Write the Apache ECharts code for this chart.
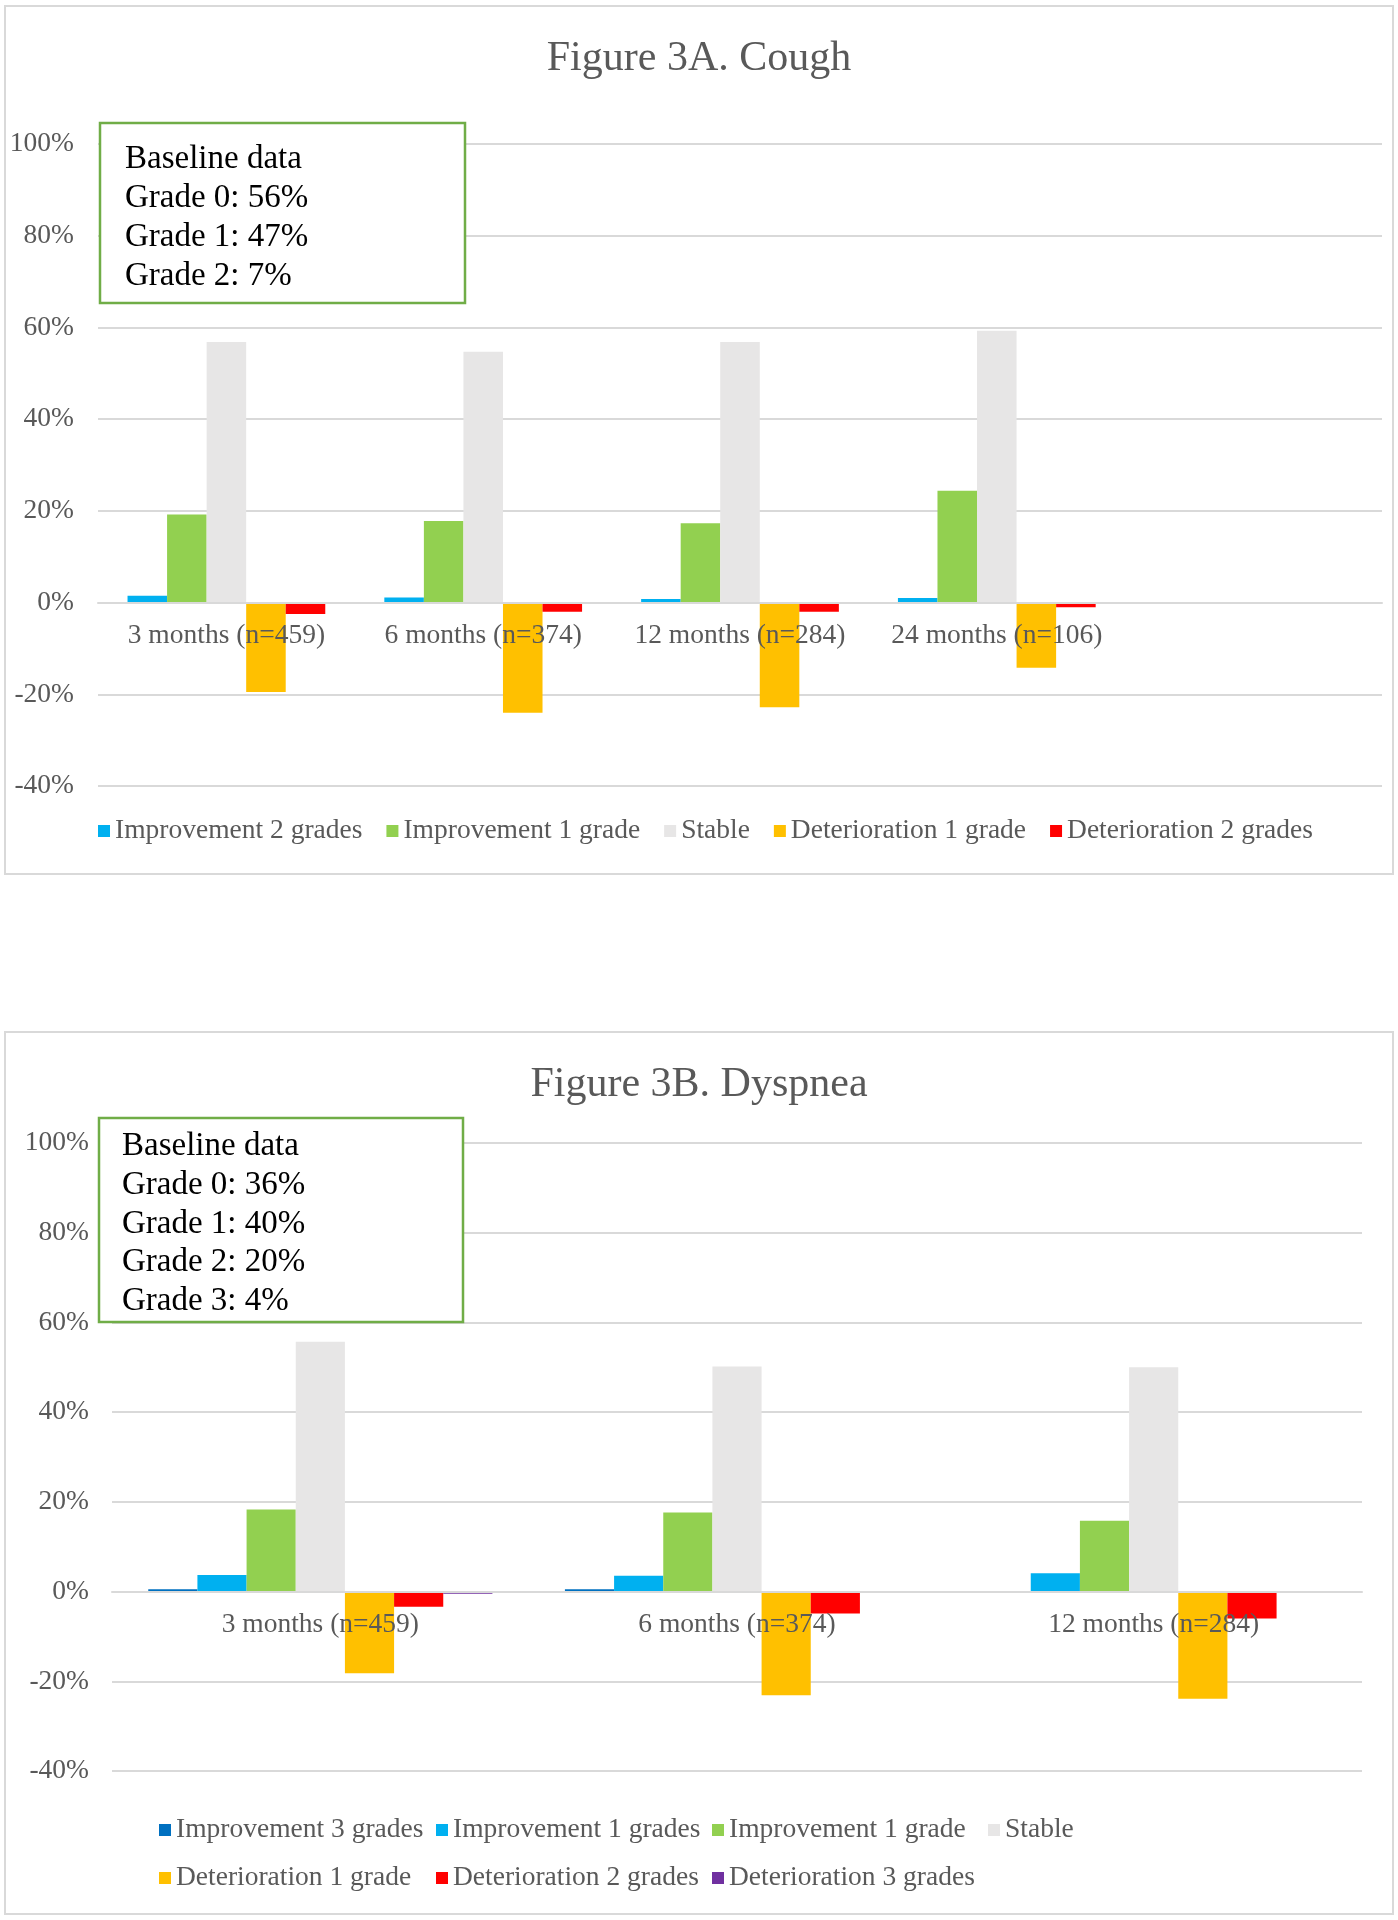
<!DOCTYPE html>
<html>
<head>
<meta charset="utf-8">
<script src="https://cdn.jsdelivr.net/npm/echarts@6/dist/echarts.min.js"></script>
<style>
  html, body { margin: 0; padding: 0; background: #fff; }
  #c { width: 1398px; height: 1920px; }
</style>
</head>
<body>
<div id="c"></div>
<script>
// ---------- Figure 3A (Cough) ----------
const catsA = ['3 months (n=459)', '6 months (n=374)', '12 months (n=284)', '24 months (n=106)', ''];
const aImp2 = [1.5, 1.1, 0.8, 1.0, null];
const aImp1 = [19.2, 17.8, 17.3, 24.4, null];
const aStable = [56.8, 54.7, 56.8, 59.3, null];
const aDet1 = [-19.5, -24.0, -22.8, -14.2, null];
const aDet2 = [-2.5, -2.0, -2.0, -1.0, null];
const namesA = ['Improvement 2 grades', 'Improvement 1 grade', 'Stable', 'Deterioration 1 grade', 'Deterioration 2 grades'];
const baselineA = ['Baseline data', 'Grade 0: 56%', 'Grade 1: 47%', 'Grade 2: 7%'];

// ---------- Figure 3B (Dyspnea) ----------
const catsB = ['3 months (n=459)', '6 months (n=374)', '12 months (n=284)'];
const bImp3 = [0.5, 0.5, null];
const bImp2 = [3.7, 3.5, 4.1];
const bImp1 = [18.3, 17.6, 15.8];
const bStable = [55.7, 50.2, 50.0];
const bDet1 = [-18.2, -23.1, -23.9];
const bDet2 = [-3.4, -4.9, -6.0];
const bDet3 = [-0.5, null, null];
const namesB = ['Improvement 3 grades', 'Improvement 1 grades', 'Improvement 1 grade', 'Stable', 'Deterioration 1 grade', 'Deterioration 2 grades', 'Deterioration 3 grades'];
const baselineB = ['Baseline data', 'Grade 0: 36%', 'Grade 1: 40%', 'Grade 2: 20%', 'Grade 3: 4%'];

const yTicks = { min: -40, max: 100, interval: 20 };

const FONT = '"Liberation Serif", "Times New Roman", serif';
const GRAY = '#595959';
const GRID = '#d9d9d9';
const colors = {
  imp3: '#0070C0', imp2: '#00B0F0', imp1: '#92D050', stable: '#E7E6E6',
  det1: '#FFC000', det2: '#FF0000', det3: '#7030A0'
};

const gridA = { left: 98, top: 144, width: 1284, height: 642 };
const gridB = { left: 112, top: 1143, width: 1250, height: 628 };
// distance from grid bottom to the 0% value (category axis sits on 0%)
function zeroOffset(g) { return -g.height * (0 - yTicks.min) / (yTicks.max - yTicks.min); }

function bar(name, data, color, axis, catGap) {
  return {
    type: 'bar', name: name, data: data,
    xAxisIndex: axis, yAxisIndex: axis,
    barGap: '0%', barCategoryGap: catGap,
    itemStyle: { color: color },
    emphasis: { disabled: true },
    z: 2
  };
}

function xAxis(cats, gridIndex, g) {
  return {
    type: 'category', data: cats, gridIndex: gridIndex,
    position: 'bottom', offset: zeroOffset(g),
    axisLine: { show: true, onZero: false, lineStyle: { color: GRID, width: 2 } },
    axisTick: { show: false },
    axisLabel: { interval: 0, margin: 19, color: GRAY, fontFamily: FONT, fontSize: 27.5 },
    z: 3
  };
}
function yAxis(gridIndex, margin) {
  return {
    type: 'value', gridIndex: gridIndex,
    min: yTicks.min, max: yTicks.max, interval: yTicks.interval,
    axisLine: { show: false }, axisTick: { show: false },
    axisLabel: { formatter: '{value}%', margin: margin, color: GRAY, fontFamily: FONT, fontSize: 27.5 },
    splitLine: { lineStyle: { color: GRID, width: 2 } }
  };
}
function legend(data, left, top, orient) {
  return {
    data: data, left: left, top: top, orient: orient || 'horizontal',
    padding: 0, itemGap: orient === 'vertical' ? 20 : 24,
    itemWidth: 12, itemHeight: 12, icon: 'rect',
    textStyle: { color: GRAY, fontFamily: FONT, fontSize: 27.5 },
    selectedMode: false
  };
}
function box(x, y, w, h, lines, tx, ty, lh) {
  return [
    { type: 'rect', shape: { x: x, y: y, width: w, height: h },
      style: { fill: '#fff', stroke: '#70AD47', lineWidth: 2.5 }, z: 10 },
    { type: 'text', x: tx, y: ty, z: 11,
      style: { text: lines.join('\n'), font: '33px ' + FONT, fill: '#000', lineHeight: lh, verticalAlign: 'top' } }
  ];
}

const chart = echarts.init(document.getElementById('c'), null, { renderer: 'canvas' });
chart.setOption({
  backgroundColor: '#ffffff',
  animation: false,
  title: [
    { text: 'Figure 3A. Cough', left: 'center', top: 37.5, padding: 0,
      textStyle: { color: GRAY, fontFamily: FONT, fontSize: 42, fontWeight: 'normal' } },
    { text: 'Figure 3B. Dyspnea', left: 'center', top: 1064, padding: 0,
      textStyle: { color: GRAY, fontFamily: FONT, fontSize: 42, fontWeight: 'normal' } }
  ],
  grid: [gridA, gridB],
  xAxis: [xAxis(catsA, 0, gridA), xAxis(catsB, 1, gridB)],
  yAxis: [yAxis(0, 24), yAxis(1, 23)],
  legend: [
    legend(namesA, 98, 817),
    legend([namesB[0], namesB[4]], 159, 1816, 'vertical'),
    legend([namesB[1], namesB[5]], 436, 1816, 'vertical'),
    legend([namesB[2], namesB[6]], 712, 1816, 'vertical'),
    legend([namesB[3]], 988, 1816, 'vertical')
  ],
  series: [
    bar(namesA[0], aImp2, colors.imp2, 0, '23%'),
    bar(namesA[1], aImp1, colors.imp1, 0, '23%'),
    bar(namesA[2], aStable, colors.stable, 0, '23%'),
    bar(namesA[3], aDet1, colors.det1, 0, '23%'),
    bar(namesA[4], aDet2, colors.det2, 0, '23%'),
    bar(namesB[0], bImp3, colors.imp3, 1, '17.4%'),
    bar(namesB[1], bImp2, colors.imp2, 1, '17.4%'),
    bar(namesB[2], bImp1, colors.imp1, 1, '17.4%'),
    bar(namesB[3], bStable, colors.stable, 1, '17.4%'),
    bar(namesB[4], bDet1, colors.det1, 1, '17.4%'),
    bar(namesB[5], bDet2, colors.det2, 1, '17.4%'),
    bar(namesB[6], bDet3, colors.det3, 1, '17.4%')
  ],
  graphic: [
    { type: 'rect', shape: { x: 5, y: 6, width: 1388, height: 868 },
      style: { fill: 'none', stroke: GRID, lineWidth: 2 }, z: 0, silent: true },
    { type: 'rect', shape: { x: 5, y: 1032, width: 1388, height: 882 },
      style: { fill: 'none', stroke: GRID, lineWidth: 2 }, z: 0, silent: true }
  ].concat(box(100, 123, 365, 180, baselineA, 125, 139.5, 39))
   .concat(box(99, 1118, 364, 204, baselineB, 122, 1127.5, 38.6))
});
</script>
</body>
</html>
